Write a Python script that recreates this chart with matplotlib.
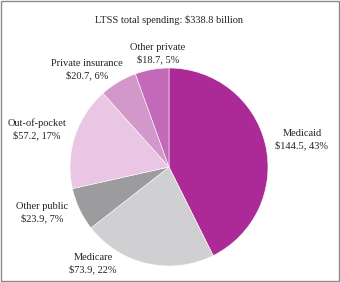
import matplotlib
matplotlib.use("Agg")
import matplotlib.pyplot as plt
from matplotlib.patches import Rectangle

plt.rcParams['font.family'] = ['Liberation Serif', 'DejaVu Serif']

# LTSS spending by payer, billions of dollars
payers = ['Medicaid', 'Medicare', 'Other public', 'Out-of-pocket',
          'Private insurance', 'Other private']
spending = [144.5, 73.9, 23.9, 57.2, 20.7, 18.7]
shares = [43, 22, 7, 17, 6, 5]
colors = ['#ab2a98', '#d0d0d2', '#9c9c9e', '#e9c6e3', '#d398ca', '#c26ab7']
total = 338.8

fig = plt.figure(figsize=(3.4, 2.82), dpi=100)
ax = fig.add_axes([70/340, 16/282, 198/340, 198/282])
ax.pie(spending, colors=colors, startangle=90, counterclock=False,
       wedgeprops=dict(edgecolor='white', linewidth=0.4))
ax.set_xlim(-1, 1)
ax.set_ylim(-1, 1)
ax.set_aspect('equal')
ax.axis('off')

fig.text(0.497, 0.929, f'LTSS total spending: ${total} billion',
         ha='center', va='center', fontsize=7.5, color='#222222')

# label positions in figure fraction
label_pos = {
    'Medicaid': (0.888, 0.504),
    'Medicare': (0.274, 0.066),
    'Other public': (0.124, 0.245),
    'Out-of-pocket': (0.109, 0.543),
    'Private insurance': (0.256, 0.752),
    'Other private': (0.465, 0.810),
}
for name, val, pct in zip(payers, spending, shares):
    x, y = label_pos[name]
    fig.text(x, y, f'{name}\n${val}, {pct}%', ha='center', va='center',
             multialignment='center', fontsize=7.5, linespacing=1.35,
             color='#222222')

fig.patches.append(Rectangle((0.003, 0.004), 0.994, 0.992, transform=fig.transFigure,
                             fill=False, edgecolor='#8a8a8a', linewidth=1))

fig.savefig('out.png', dpi=100)
